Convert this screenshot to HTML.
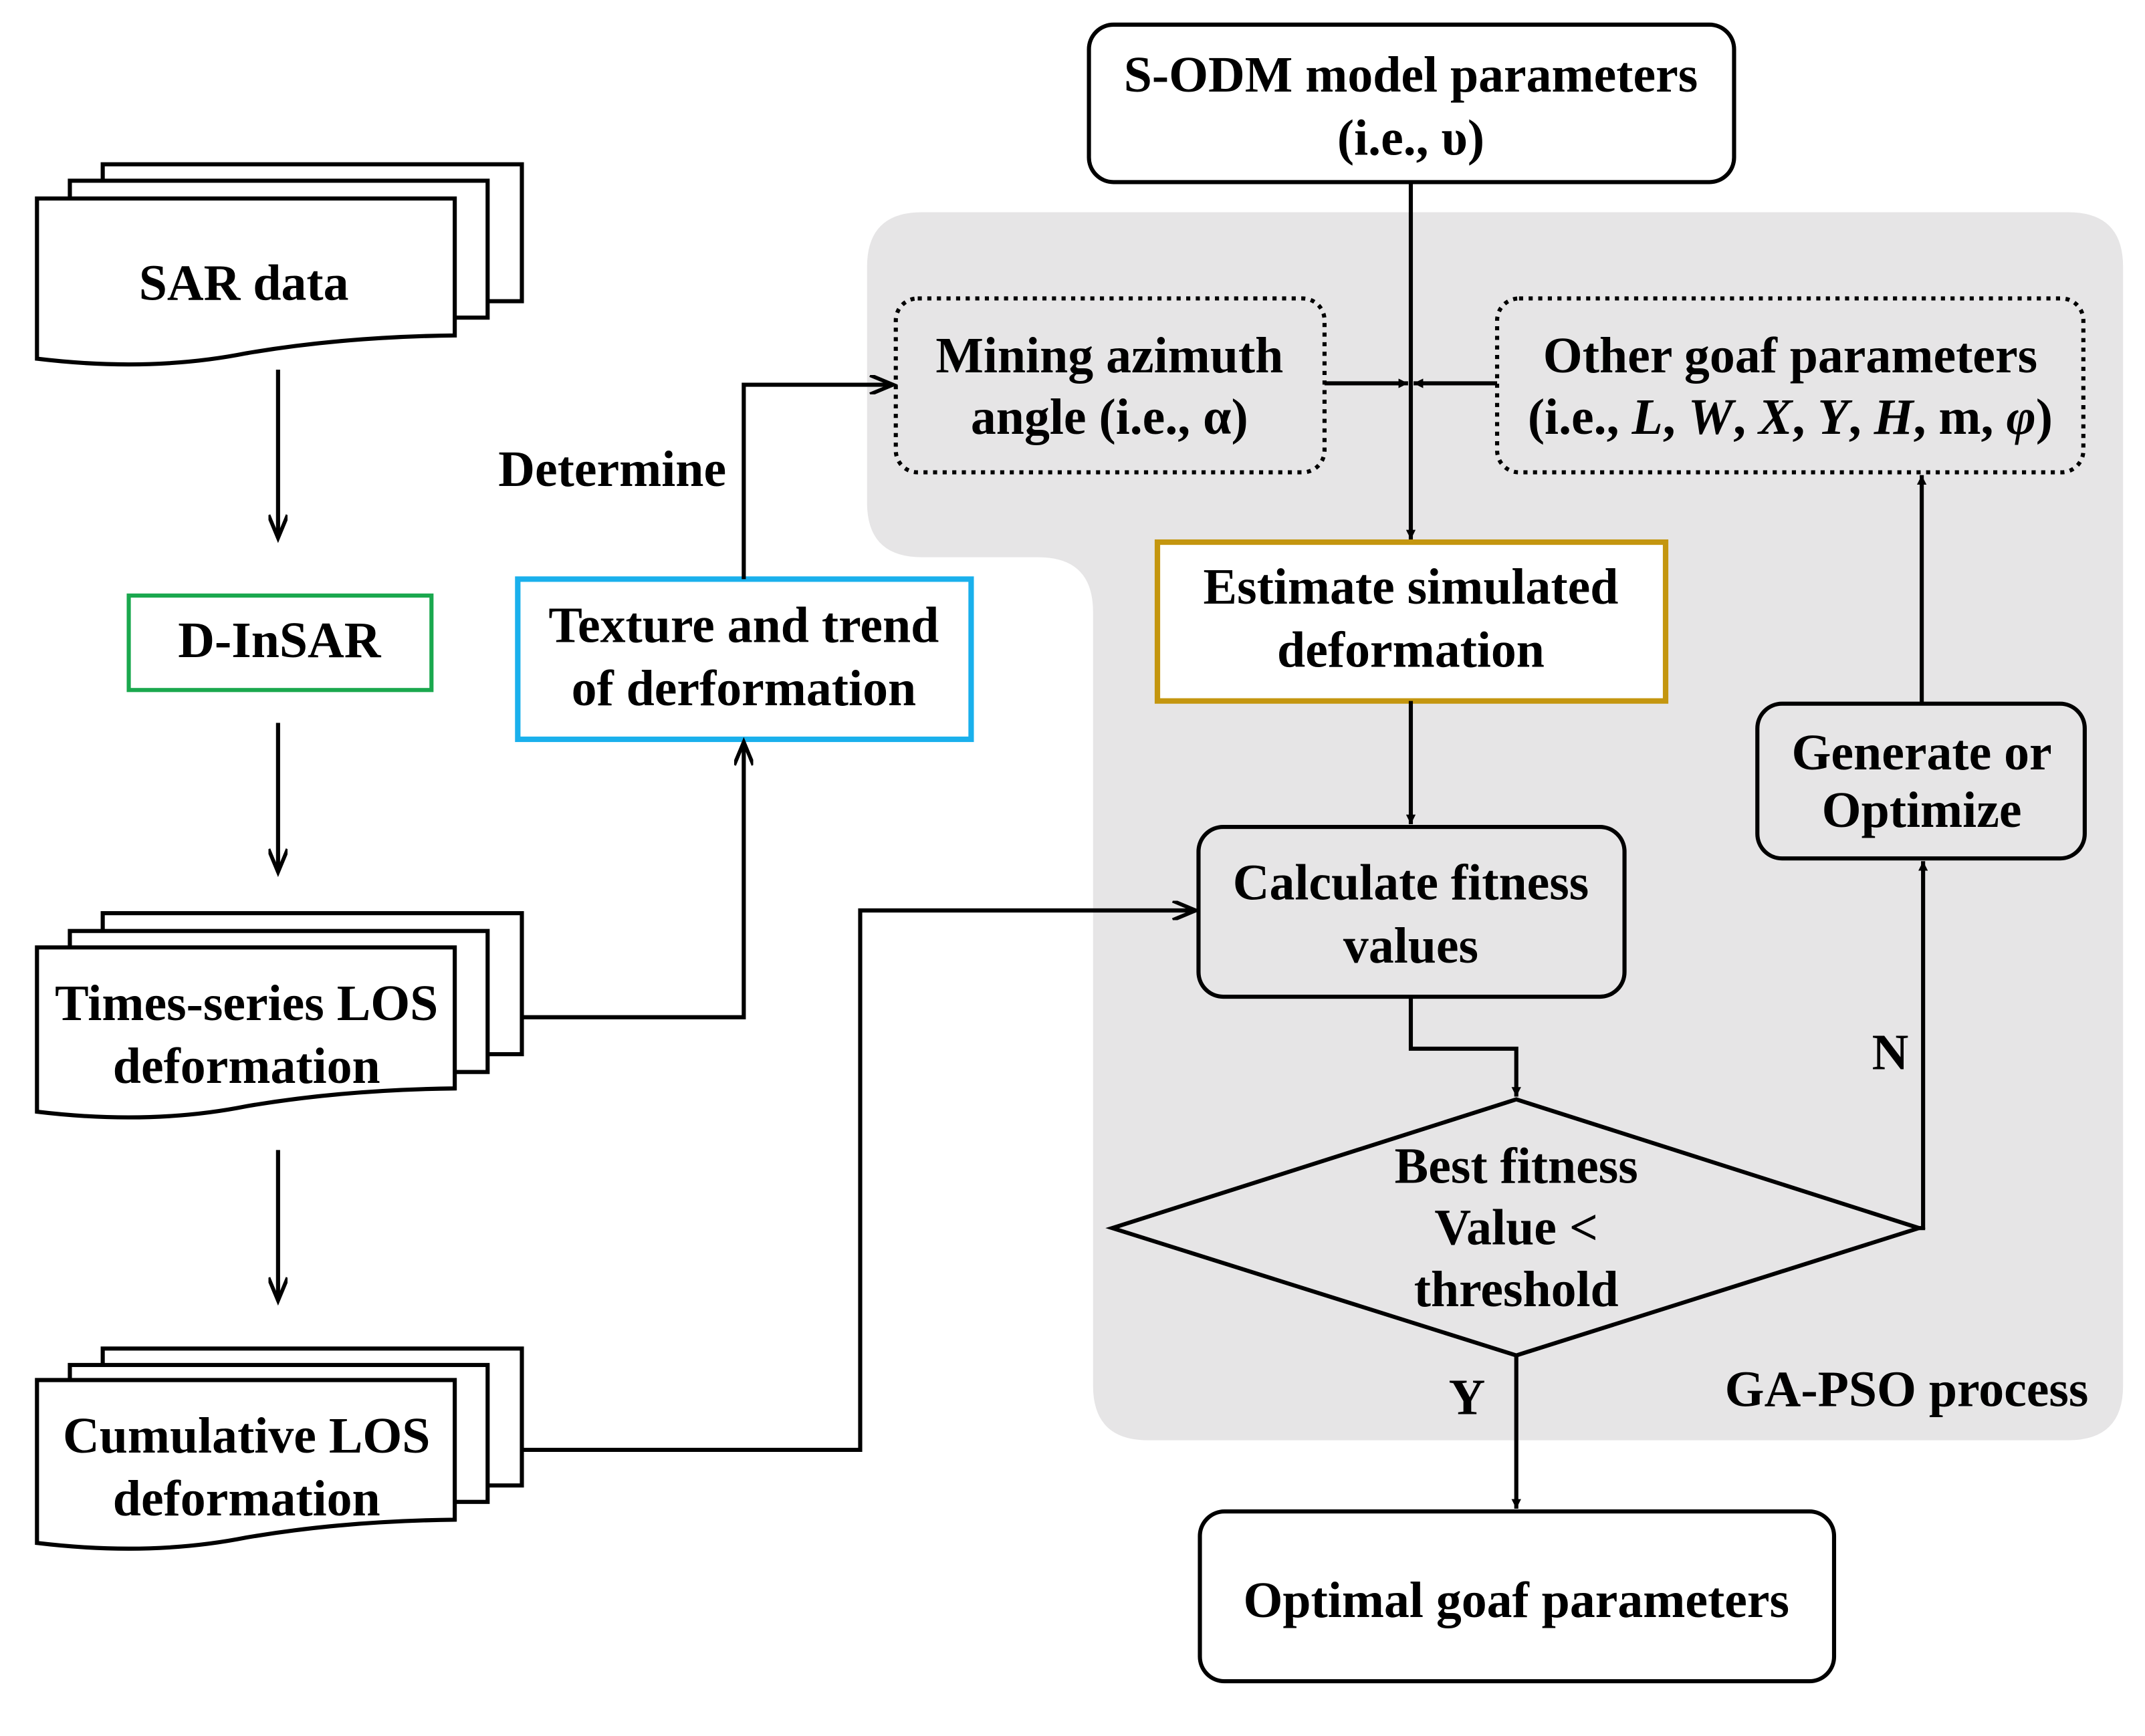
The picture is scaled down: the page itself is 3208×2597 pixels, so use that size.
<!DOCTYPE html>
<html><head><meta charset="utf-8"><style>
html,body{margin:0;padding:0;background:#fff;}
svg{display:block;}
text{font-family:"Liberation Serif",serif;font-weight:bold;font-size:37px;fill:#000;text-anchor:middle;}
</style></head><body>
<svg width="3208" height="2597" viewBox="0 0 1566 1268" preserveAspectRatio="none" xmlns="http://www.w3.org/2000/svg">
<defs>
<marker id="a" viewBox="0 0 10 10" refX="10" refY="5" markerWidth="7" markerHeight="7" markerUnits="userSpaceOnUse" orient="auto">
<path d="M0,0 L10,5 L0,10 z" fill="#000"/></marker>
<marker id="b" viewBox="0 0 12 10" refX="12" refY="5" markerWidth="24" markerHeight="14" markerUnits="userSpaceOnUse" orient="auto">
<path d="M0,0 L12,5 L0,10" fill="none" stroke="#000" stroke-width="2"/></marker>
</defs>
<path d="M673,155 H1510 Q1550,155 1550,195 V1012 Q1550,1052 1510,1052 H838 Q798,1052 798,1012 V447 Q798,407 758,407 H673 Q633,407 633,367 V195 Q633,155 673,155 Z" fill="#e6e5e6"/>

<g fill="#fff" stroke="#000" stroke-width="3">
<rect x="75" y="120" width="306" height="100"/>
<rect x="51" y="132" width="305" height="100"/>
<path d="M27,145 H332 V245 Q250,246 180,258 Q110,272 27,262 Z"/>
<rect x="75" y="667" width="306" height="103"/>
<rect x="51" y="680" width="305" height="103"/>
<path d="M27,692 H332 V795 Q250,796 180,808 Q110,822 27,812 Z"/>
<rect x="75" y="985" width="306" height="100"/>
<rect x="51" y="997" width="305" height="100"/>
<path d="M27,1008 H332 V1110 Q250,1111 180,1123 Q110,1137 27,1127 Z"/>
</g>
<text x="178" y="219">SAR data</text>
<text x="180" y="745">Times-series LOS</text>
<text x="180" y="791">deformation</text>
<text x="180" y="1061">Cumulative LOS</text>
<text x="180" y="1107">deformation</text>

<rect x="94" y="435" width="221" height="69" fill="#fff" stroke="#1aa84e" stroke-width="3"/>
<text x="204" y="480">D-InSAR</text>

<rect x="378" y="423" width="331" height="117" fill="#fff" stroke="#1ab0ec" stroke-width="4"/>
<text x="543" y="469">Texture and trend</text>
<text x="543" y="515">of derformation</text>
<text x="447" y="355">Determine</text>

<rect x="795" y="18" width="471" height="115" rx="18" fill="#fff" stroke="#000" stroke-width="3"/>
<text x="1030" y="67">S-ODM model parameters</text>
<text x="1030" y="113">(i.e.,  υ)</text>

<rect x="654" y="218" width="313" height="127" rx="16" fill="none" stroke="#000" stroke-width="3" stroke-dasharray="3,4"/>
<text x="810" y="272">Mining azimuth</text>
<text x="810" y="317">angle (i.e.,  α)</text>

<rect x="1093" y="218" width="428" height="127" rx="16" fill="none" stroke="#000" stroke-width="3" stroke-dasharray="3,4"/>
<text x="1307" y="272">Other goaf parameters</text>
<text x="1307" y="317">(i.e., <tspan font-style="italic">L</tspan>, <tspan font-style="italic">W</tspan>, <tspan font-style="italic">X</tspan>, <tspan font-style="italic">Y</tspan>, <tspan font-style="italic">H</tspan>, m, <tspan font-style="italic">φ</tspan>)</text>

<rect x="845" y="396" width="371" height="116" fill="#fff" stroke="#c4960f" stroke-width="4"/>
<text x="1030" y="441">Estimate simulated</text>
<text x="1030" y="487">deformation</text>

<rect x="875" y="604" width="311" height="124" rx="18" fill="#e6e5e6" stroke="#000" stroke-width="3"/>
<text x="1030" y="657">Calculate fitness</text>
<text x="1030" y="703">values</text>

<rect x="1283" y="514" width="239" height="113" rx="18" fill="#e6e5e6" stroke="#000" stroke-width="3"/>
<text x="1403" y="562">Generate or</text>
<text x="1403" y="604">Optimize</text>

<path d="M812,897 L1107,803 L1401,897 L1107,990 Z" fill="#e6e5e6" stroke="#000" stroke-width="3"/>
<text x="1107" y="864">Best fitness</text>
<text x="1107" y="909">Value &lt;</text>
<text x="1107" y="954">threshold</text>

<text x="1392" y="1027">GA-PSO process</text>
<text x="1380" y="781">N</text>
<text x="1071" y="1033">Y</text>

<rect x="876" y="1104" width="463" height="124" rx="18" fill="#fff" stroke="#000" stroke-width="3"/>
<text x="1107" y="1181">Optimal goaf parameters</text>

<g fill="none" stroke="#000" stroke-width="3">
<path d="M203,270 V393" marker-end="url(#b)"/>
<path d="M203,528 V637" marker-end="url(#b)"/>
<path d="M203,840 V950" marker-end="url(#b)"/>
<path d="M381,743 H543 V542" marker-end="url(#b)"/>
<path d="M543,423 V281 H652" marker-end="url(#b)"/>
<path d="M381,1059 H628 V665 H873" marker-end="url(#b)"/>
<path d="M1030,133 V394" marker-end="url(#a)"/>
<path d="M967,280 H1028" marker-end="url(#a)"/>
<path d="M1093,280 H1032" marker-end="url(#a)"/>
<path d="M1030,512 V602" marker-end="url(#a)"/>
<path d="M1030,728 V766 H1107 V801" marker-end="url(#a)"/>
<path d="M1401,897 H1404 V629" marker-end="url(#a)"/>
<path d="M1403,514 V347" marker-end="url(#a)"/>
<path d="M1107,990 V1102" marker-end="url(#a)"/>
</g>
</svg>
</body></html>
